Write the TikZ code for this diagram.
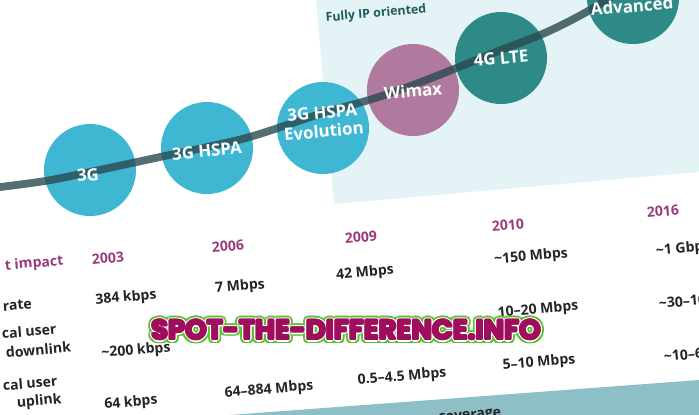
\documentclass[tikz,border=0pt]{standalone}
\usepackage{fontspec}
\setmainfont{Open Sans}
\newfontfamily\wmfont{Poppins}
\usetikzlibrary{positioning}
\definecolor{panelblue}{HTML}{E3F3F6}
\definecolor{hspacyan}{HTML}{3FB7D3}
\definecolor{wimaxmauve}{HTML}{B07A9E}
\definecolor{lteteal}{HTML}{2E8A87}
\definecolor{trackdark}{HTML}{2B4A4E}
\definecolor{yearpink}{HTML}{993B7B}
\definecolor{cellink}{HTML}{242424}
\definecolor{bandteal}{HTML}{8DBFC6}
\definecolor{ipteal}{HTML}{1F5A5C}
\definecolor{wmgreen}{HTML}{5DBE32}
\definecolor{wmmagenta}{HTML}{9E0E5C}
\tikzset{
  bubble/.style={circle,inner sep=0pt,minimum size=2.3cm},
  tech/.style={text=white,font=\bfseries\fontsize{12}{13.5}\selectfont,rotate=5,align=center},
  year/.style={text=yearpink,font=\bfseries\fontsize{10}{11}\selectfont,rotate=5},
  cell/.style={text=cellink,font=\bfseries\fontsize{10}{11}\selectfont,rotate=5},
  rowhead/.style={cell,anchor=west},
  wm/.style={font=\wmfont\bfseries\fontsize{19.5}{21}\selectfont}
}

\begin{document}
\begin{tikzpicture}[x=0.025cm,y=-0.025cm,line join=round]
\useasboundingbox (0,0) rectangle (699,415);
\clip (0,0) rectangle (699,415);
% fully IP panel and coverage band
\fill[panelblue] (316,0) -- (699,0) -- (699,172) -- (334,204) -- cycle;
\fill[bandteal] (230,415) -- (699,380) -- (699,415) -- cycle;
\node[text=ipteal,font=\bfseries\fontsize{8.8}{10}\selectfont,rotate=5] (ip) at (376,14) {Fully IP oriented};
% technology bubbles
\node[bubble,fill=hspacyan] (g3) at (90,170) {};
\node[bubble,fill=hspacyan] (hspa) at (207,148) {};
\node[bubble,fill=hspacyan] (evo) at (323,128) {};
\node[bubble,fill=wimaxmauve] (wimax) at (413,90) {};
\node[bubble,fill=lteteal] (lte) at (501,58) {};
\node[bubble,fill=lteteal] (adv) at (633,-2) {};
% evolution track
\draw[trackdark,line width=5.5pt,opacity=0.8,line cap=round] plot[smooth,tension=0.6] coordinates {(-8,188) (45,181) (90,172) (160,157) (207,147) (253,136) (323,113) (369,100) (413,85) (459,67) (501,50) (547,32) (590,10) (625,-12)};
\node[tech] (t3g) at (88,175) {3G};
\node[tech] (thspa) at (207,151) {3G HSPA};
\node[tech] (tevo) at (323,122) {3G HSPA\\Evolution};
\node[tech] (twimax) at (413,91) {Wimax};
\node[tech] (tlte) at (501,58) {4G LTE};
\node[tech] (tadv) at (632,6) {Advanced};
% years
\node[rowhead,text=yearpink] (impact) at (0,267) {t impact};
\node[year] (y03) at (108,258) {2003};
\node[year] (y06) at (228,246) {2006};
\node[year] (y09) at (361,237) {2009};
\node[year] (y10) at (508,225) {2010};
\node[year] (y16) at (663,211) {2016};
% row heads
\node[rowhead] (hrate) at (-2,307) {rate};
\node[rowhead] (hdl1) at (-3,334) {cal user};
\node[rowhead] (hdl2) at (1,353) {downlink};
\node[rowhead] (hul1) at (-2,386) {cal user};
\node[rowhead] (hul2) at (12,404) {uplink};
% cells
\node[cell] (r03) at (126,298) {384 kbps};
\node[cell] (d03) at (136,351) {\textasciitilde200 kbps};
\node[cell] (u03) at (131,403) {64 kbps};
\node[cell] (r06) at (240,287) {7 Mbps};
\node[cell] (u06) at (269,390) {64--884 Mbps};
\node[cell] (r09) at (365,273) {42 Mbps};
\node[cell] (u09) at (402,377) {0.5--4.5 Mbps};
\node[cell] (r10) at (531,257) {\textasciitilde150 Mbps};
\node[cell] (d10) at (538,310) {10--20 Mbps};
\node[cell] (u10) at (539,363) {5--10 Mbps};
\node[cell,anchor=west] (r16) at (651,252) {\textasciitilde1 Gbp};
\node[cell,anchor=west] (d16) at (654,304) {\textasciitilde30--10};
\node[cell,anchor=west] (u16) at (659,357) {\textasciitilde10--6};
\node[cell] (cov) at (470,417) {coverage};
% watermark
\foreach \a in {0,20,...,340}
  \node[wm,text=wmgreen,shift={(\a:4.2)}] (wmg\a) at (346,330) {SPOT-THE-DIFFERENCE.INFO};
\foreach \a in {0,30,...,330}
  \node[wm,text=white,shift={(\a:2.4)}] (wmw\a) at (346,330) {SPOT-THE-DIFFERENCE.INFO};
\foreach \a in {0,45,...,315}
  \node[wm,text=wmmagenta,shift={(\a:1.1)}] (wmm\a) at (346,330) {SPOT-THE-DIFFERENCE.INFO};
\node[wm,text=wmmagenta] (wm) at (346,330) {SPOT-THE-DIFFERENCE.INFO};
\end{tikzpicture}
\end{document}
